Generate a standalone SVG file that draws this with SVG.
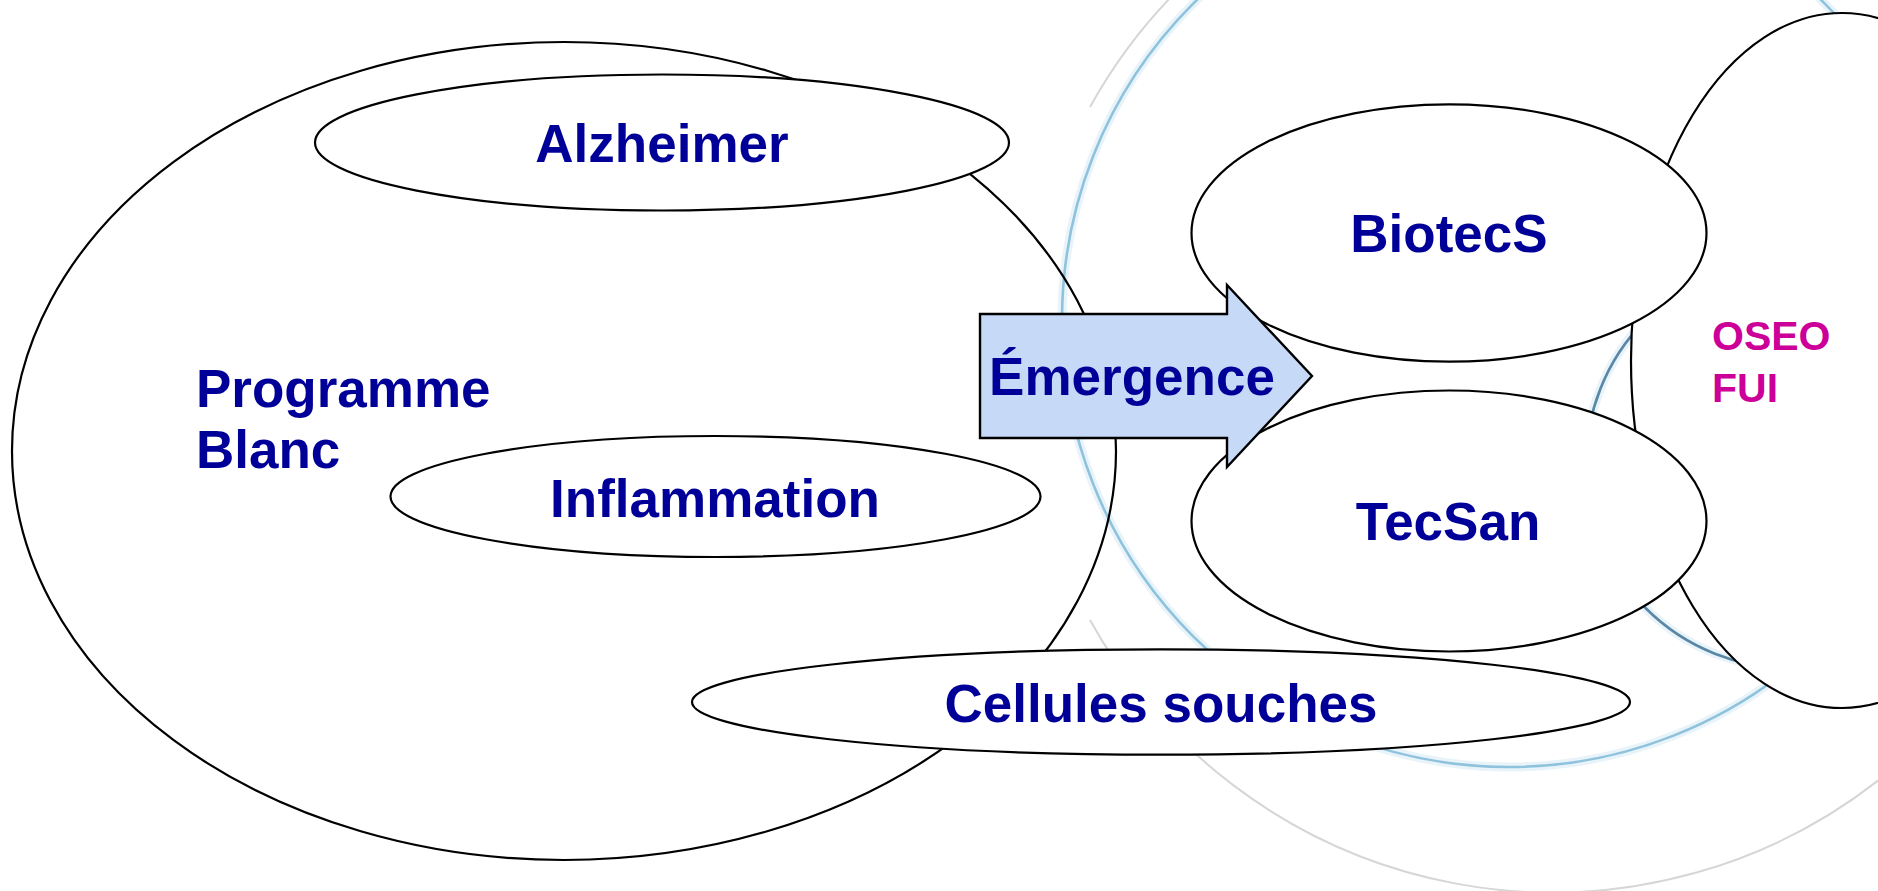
<svg xmlns="http://www.w3.org/2000/svg" width="1878" height="891" viewBox="0 0 1878 891">
  <style>
    .node { fill: #ffffff; stroke: #000000; stroke-width: 2.2; }
    .outline { fill: none; stroke: #000000; stroke-width: 2.2; }
    .lbl { font-family: "Liberation Sans", Arial, sans-serif; font-weight: bold; font-size: 53px; fill: #000099; }
    .lbl2 { font-family: "Liberation Sans", Arial, sans-serif; font-weight: bold; font-size: 41px; fill: #CC0099; }
    .halo { fill: none; stroke: #e8f4fa; stroke-width: 9; }
    .blue { fill: none; stroke: #8fc2dc; stroke-width: 2.6; }
    .dark { fill: none; stroke: #5a87a6; stroke-width: 2.6; }
    .gray { fill: none; stroke: #d6d6d6; stroke-width: 2; }
  </style>
  <rect width="1878" height="891" fill="#ffffff"/>
  <g id="background">
    <path class="gray" d="M 1090 620 A 529 529 0 1 0 1090 107"/>
    <circle class="halo" cx="1509" cy="320" r="447"/>
    <circle class="blue" cx="1509" cy="320" r="447"/>
    <circle class="halo" cx="1790" cy="464" r="204"/>
    <circle class="dark" cx="1790" cy="464" r="204"/>
  </g>
  <g id="programme-blanc">
    <ellipse class="outline" cx="564" cy="451" rx="552" ry="409"/>
    <text class="lbl" x="196" y="407">Programme</text>
    <text class="lbl" x="196" y="468">Blanc</text>
  </g>
  <g id="alzheimer">
    <ellipse class="node" cx="662" cy="142.5" rx="347" ry="68"/>
    <text class="lbl" x="662" y="162" text-anchor="middle">Alzheimer</text>
  </g>
  <g id="inflammation">
    <ellipse class="node" cx="715.5" cy="496.5" rx="325" ry="60.5"/>
    <text class="lbl" x="715" y="517" text-anchor="middle">Inflammation</text>
  </g>
  <g id="cellules-souches">
    <ellipse class="node" cx="1161" cy="702" rx="469" ry="52.7"/>
    <text class="lbl" x="1161" y="721.5" text-anchor="middle">Cellules souches</text>
  </g>
  <g id="oseo-fui">
    <ellipse class="node" cx="1842" cy="360.5" rx="211" ry="347.5"/>
    <text class="lbl2" x="1712" y="350">OSEO</text>
    <text class="lbl2" x="1712" y="402">FUI</text>
  </g>
  <g id="biotecs">
    <ellipse class="node" cx="1449" cy="233" rx="257.5" ry="128.7"/>
    <text class="lbl" x="1449" y="251.5" text-anchor="middle">BiotecS</text>
  </g>
  <g id="tecsan">
    <ellipse class="node" cx="1449" cy="521" rx="257.5" ry="130.5"/>
    <text class="lbl" x="1448" y="539.5" text-anchor="middle">TecSan</text>
  </g>
  <g id="connectors">
    <g id="emergence">
      <polygon points="980,314 1227,314 1227,285 1312,376 1227,467 1227,438 980,438" fill="#c6d9f7" stroke="#000000" stroke-width="2.4" stroke-linejoin="miter"/>
      <text class="lbl" x="1132" y="395" text-anchor="middle">Émergence</text>
    </g>
  </g>
</svg>
